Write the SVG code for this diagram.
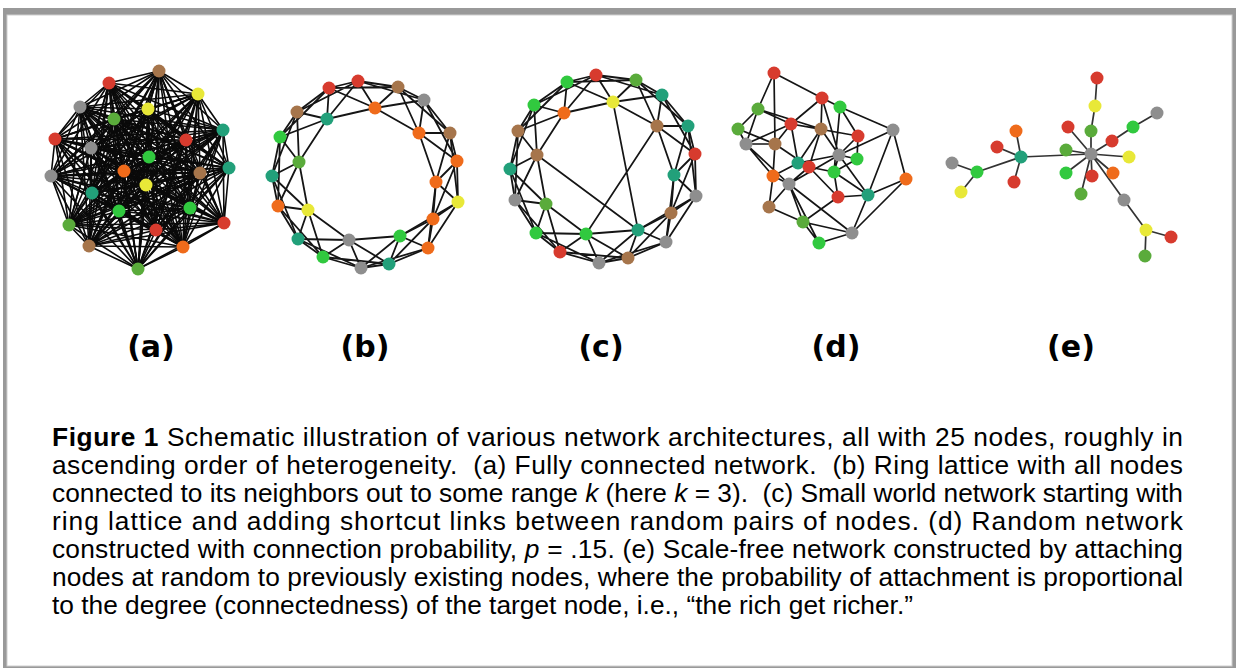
<svg xmlns="http://www.w3.org/2000/svg" width="1236" height="668" viewBox="0 0 1236 668">
<style>
.r{fill:#d73b2e}.br{fill:#a6754b}.y{fill:#e8e838}.g{fill:#8e8e8e}.ol{fill:#5aab3b}.gr{fill:#31c93f}.t{fill:#22a07a}.o{fill:#ef6b1b}
circle{r:6.5px}
.ea{fill:none;stroke:#0a0a0a;stroke-width:1.6;stroke-linejoin:round}
.eb{fill:none;stroke:#151515;stroke-width:1.8;stroke-linejoin:round}
.ed{fill:none;stroke:#151515;stroke-width:1.7}
.ee{fill:none;stroke:#333;stroke-width:1.7}
.lab{font-family:"DejaVu Sans",sans-serif;font-weight:bold;font-size:30px;fill:#000;text-anchor:middle}
.cap{font-family:"Liberation Sans",Arial,sans-serif;font-size:26.3px;fill:#000}
</style>
<rect x="3" y="8" width="1233" height="660" fill="#999"/>
<rect x="7" y="15" width="1225" height="651" fill="#fff" stroke="#cfcfcf" stroke-width="1"/>

<g id="connectors">
<g id="edges-a">
<polygon class="ea" points="159,71 109,83 198,94 80,107 148,109 114,119 223,130 55,139 186,140 91,148 149,157 229,168 124,171 200,173 51,176 146,185 92,193 119,211 190,208 69,225 156,230 224,223 89,246 183,247 138,269"/>
<polygon class="ea" points="159,71 198,94 148,109 223,130 186,140 149,157 124,171 51,176 92,193 190,208 156,230 89,246 138,269 109,83 80,107 114,119 55,139 91,148 229,168 200,173 146,185 119,211 69,225 224,223 183,247"/>
<polygon class="ea" points="159,71 80,107 223,130 91,148 124,171 146,185 190,208 224,223 138,269 198,94 114,119 186,140 229,168 51,176 119,211 156,230 183,247 109,83 148,109 55,139 149,157 200,173 92,193 69,225 89,246"/>
<polygon class="ea" points="159,71 148,109 186,140 124,171 92,193 156,230 138,269 80,107 55,139 229,168 146,185 69,225 183,247 198,94 223,130 149,157 51,176 190,208 89,246 109,83 114,119 91,148 200,173 119,211 224,223"/>
<polygon class="ea" points="159,71 114,119 149,157 146,185 156,230"/>
<polygon class="ea" points="109,83 223,130 229,168 92,193 224,223"/>
<polygon class="ea" points="198,94 55,139 124,171 119,211 89,246"/>
<polygon class="ea" points="80,107 186,140 200,173 190,208 183,247"/>
<polygon class="ea" points="148,109 91,148 51,176 69,225 138,269"/>
<polygon class="ea" points="159,71 223,130 124,171 190,208 138,269 114,119 229,168 119,211 183,247 148,109 149,157 92,193 89,246 80,107 91,148 146,185 224,223 198,94 186,140 51,176 156,230 109,83 55,139 200,173 69,225"/>
<polygon class="ea" points="159,71 55,139 51,176 224,223 80,107 149,157 119,211 138,269 223,130 200,173 156,230 198,94 91,148 92,193 183,247 114,119 124,171 69,225 109,83 186,140 146,185 89,246 148,109 229,168 190,208"/>
<polygon class="ea" points="159,71 186,140 92,193 138,269 55,139 146,185 183,247 223,130 51,176 89,246 114,119 200,173 224,223 148,109 124,171 156,230 80,107 229,168 69,225 198,94 149,157 190,208 109,83 91,148 119,211"/>
<polygon class="ea" points="159,71 91,148 190,208 198,94 229,168 156,230 148,109 200,173 89,246 223,130 146,185 138,269 186,140 119,211 109,83 149,157 69,225 80,107 124,171 224,223 114,119 51,176 183,247 55,139 92,193"/>
<polygon class="ea" points="159,71 149,157 156,230 114,119 146,185"/>
<polygon class="ea" points="109,83 229,168 224,223 223,130 92,193"/>
<polygon class="ea" points="198,94 124,171 89,246 55,139 119,211"/>
<polygon class="ea" points="80,107 200,173 183,247 186,140 190,208"/>
<polygon class="ea" points="148,109 51,176 138,269 91,148 69,225"/>
<polygon class="ea" points="159,71 229,168 89,246 186,140 69,225 114,119 92,193 198,94 200,173 138,269 149,157 224,223 55,139 190,208 148,109 146,185 109,83 124,171 183,247 91,148 156,230 223,130 119,211 80,107 51,176"/>
<polygon class="ea" points="159,71 124,171 138,269 229,168 183,247 149,157 89,246 91,148 224,223 186,140 156,230 55,139 69,225 223,130 190,208 114,119 119,211 148,109 92,193 80,107 146,185 198,94 51,176 109,83 200,173"/>
</g>
<g id="edges-b">
<polygon class="eb" points="299,162 280,137 297,112 327,119 329,88 358,81 375,108 398,87 424,100 419,133 450,133 457,161 436,182 458,202 433,219 428,248 400,236 389,264 361,268 349,240 323,257 298,239 308,210 278,206 272,176"/>
<polygon class="eb" points="299,162 297,112 329,88 375,108 424,100 450,133 436,182 433,219 400,236 361,268 323,257 308,210 272,176 280,137 327,119 358,81 398,87 419,133 457,161 458,202 428,248 389,264 349,240 298,239 278,206"/>
<polygon class="eb" points="299,162 327,119 375,108 419,133 436,182 428,248 361,268 298,239 272,176 297,112 358,81 424,100 457,161 433,219 389,264 323,257 278,206 280,137 329,88 398,87 450,133 458,202 400,236 349,240 308,210"/>
</g>
<g id="edges-c">
<polygon class="eb" points="510,169 537,155 518,131 534,105 564,113 567,82 596,75 613,102 636,80 662,95 657,126 688,126 695,154 674,175 696,196 671,213 666,242 638,230 628,258 599,263 586,234 560,252 536,233 546,204 515,200"/>
<polygon class="eb" points="510,169 518,131 564,113 596,75 636,80 657,126 695,154 696,196 666,242 628,258 586,234 536,233 515,200 537,155 534,105 567,82 613,102 662,95 688,126 674,175 671,213 638,230 599,263 560,252 546,204"/>
<polygon class="eb" points="510,169 534,105 596,75 662,95 695,154 671,213 628,258 560,252 515,200 518,131 567,82 636,80 688,126 696,196 638,230 586,234 546,204 537,155 564,113 613,102 657,126 674,175 666,242 599,263 536,233"/>
<path class="ed" d="M613 102L638 230M537 155L638 230M657 126L586 234"/>
</g>
<g id="edges-d">
<path class="ed" d="M774 73L822 98M774 73L758 109M774 73L775 144M822 98L840 107M822 98L791 124M822 98L821 129M822 98L839 155M758 109L791 124M758 109L738 129M758 109L746 144M758 109L821 129M840 107L893 130M840 107L858 136M840 107L834 172M791 124L821 129M791 124L858 136M791 124L775 144M791 124L798 163M791 124L746 144M738 129L746 144M738 129L775 144M821 129L839 155M821 129L809 167M821 129L798 163M893 130L839 155M893 130L906 179M893 130L868 195M858 136L857 159M858 136L839 155M746 144L775 144M746 144L773 176M746 144L789 184M775 144L809 167M775 144L773 176M839 155L857 159M839 155L798 163M839 155L834 172M839 155L789 184M857 159L834 172M798 163L809 167M798 163L773 176M809 167L834 172M809 167L789 184M809 167L838 197M834 172L868 195M773 176L789 184M773 176L769 207M789 184L769 207M789 184L803 222M789 184L819 243M906 179L868 195M906 179L852 233M838 197L868 195M838 197L803 222M868 195L852 233M769 207L803 222M803 222L819 243M852 233L819 243M803 222L852 233M834 172L838 197M789 184L852 233M839 155L868 195"/>
</g>
<g id="edges-e">
<path class="ee" d="M1097 78L1095 106M1095 106L1091 131M1091 131L1091 154M1157 113L1133 127M1133 127L1112 141M1112 141L1091 154M1068 127L1091 154M1066 150L1091 154M1091 154L1021 157M1091 154L1129 157M1091 154L1066 173M1091 154L1092 176M1091 154L1113 173M1091 154L1081 194M1091 154L1124 200M1124 200L1146 230M1146 230L1171 237M1146 230L1145 256M1021 157L1016 131M1021 157L997 147M1021 157L1014 182M1021 157L977 172M977 172L952 163M977 172L961 192"/>
</g>
</g>

<g id="network-a">
<g id="a1"><circle class="br" cx="159" cy="71" r="6.5"/></g>
<g id="a2"><circle class="r" cx="109" cy="83" r="6.5"/></g>
<g id="a3"><circle class="y" cx="198" cy="94" r="6.5"/></g>
<g id="a4"><circle class="g" cx="80" cy="107" r="6.5"/></g>
<g id="a5"><circle class="y" cx="148" cy="109" r="6.5"/></g>
<g id="a6"><circle class="ol" cx="114" cy="119" r="6.5"/></g>
<g id="a7"><circle class="t" cx="223" cy="130" r="6.5"/></g>
<g id="a8"><circle class="r" cx="55" cy="139" r="6.5"/></g>
<g id="a9"><circle class="r" cx="186" cy="140" r="6.5"/></g>
<g id="a10"><circle class="g" cx="91" cy="148" r="6.5"/></g>
<g id="a11"><circle class="gr" cx="149" cy="157" r="6.5"/></g>
<g id="a12"><circle class="t" cx="229" cy="168" r="6.5"/></g>
<g id="a13"><circle class="o" cx="124" cy="171" r="6.5"/></g>
<g id="a14"><circle class="br" cx="200" cy="173" r="6.5"/></g>
<g id="a15"><circle class="g" cx="51" cy="176" r="6.5"/></g>
<g id="a16"><circle class="y" cx="146" cy="185" r="6.5"/></g>
<g id="a17"><circle class="t" cx="92" cy="193" r="6.5"/></g>
<g id="a18"><circle class="gr" cx="119" cy="211" r="6.5"/></g>
<g id="a19"><circle class="gr" cx="190" cy="208" r="6.5"/></g>
<g id="a20"><circle class="ol" cx="69" cy="225" r="6.5"/></g>
<g id="a21"><circle class="r" cx="156" cy="230" r="6.5"/></g>
<g id="a22"><circle class="r" cx="224" cy="223" r="6.5"/></g>
<g id="a23"><circle class="br" cx="89" cy="246" r="6.5"/></g>
<g id="a24"><circle class="o" cx="183" cy="247" r="6.5"/></g>
<g id="a25"><circle class="ol" cx="138" cy="269" r="6.5"/></g>
</g>

<g id="network-b">
<g id="b1"><circle class="r" cx="329" cy="88" r="6.5"/></g>
<g id="b2"><circle class="r" cx="358" cy="81" r="6.5"/></g>
<g id="b3"><circle class="br" cx="398" cy="87" r="6.5"/></g>
<g id="b4"><circle class="g" cx="424" cy="100" r="6.5"/></g>
<g id="b5"><circle class="o" cx="375" cy="108" r="6.5"/></g>
<g id="b6"><circle class="br" cx="297" cy="112" r="6.5"/></g>
<g id="b7"><circle class="t" cx="327" cy="119" r="6.5"/></g>
<g id="b8"><circle class="o" cx="419" cy="133" r="6.5"/></g>
<g id="b9"><circle class="br" cx="450" cy="133" r="6.5"/></g>
<g id="b10"><circle class="gr" cx="280" cy="137" r="6.5"/></g>
<g id="b11"><circle class="ol" cx="299" cy="162" r="6.5"/></g>
<g id="b12"><circle class="o" cx="457" cy="161" r="6.5"/></g>
<g id="b13"><circle class="t" cx="272" cy="176" r="6.5"/></g>
<g id="b14"><circle class="o" cx="436" cy="182" r="6.5"/></g>
<g id="b15"><circle class="o" cx="278" cy="206" r="6.5"/></g>
<g id="b16"><circle class="y" cx="458" cy="202" r="6.5"/></g>
<g id="b17"><circle class="y" cx="308" cy="210" r="6.5"/></g>
<g id="b18"><circle class="o" cx="433" cy="219" r="6.5"/></g>
<g id="b19"><circle class="t" cx="298" cy="239" r="6.5"/></g>
<g id="b20"><circle class="g" cx="349" cy="240" r="6.5"/></g>
<g id="b21"><circle class="gr" cx="400" cy="236" r="6.5"/></g>
<g id="b22"><circle class="o" cx="428" cy="248" r="6.5"/></g>
<g id="b23"><circle class="gr" cx="323" cy="257" r="6.5"/></g>
<g id="b24"><circle class="t" cx="389" cy="264" r="6.5"/></g>
<g id="b25"><circle class="g" cx="361" cy="268" r="6.5"/></g>
</g>

<g id="network-c">
<g id="c1"><circle class="r" cx="596" cy="75" r="6.5"/></g>
<g id="c2"><circle class="ol" cx="636" cy="80" r="6.5"/></g>
<g id="c3"><circle class="gr" cx="567" cy="82" r="6.5"/></g>
<g id="c4"><circle class="t" cx="662" cy="95" r="6.5"/></g>
<g id="c5"><circle class="y" cx="613" cy="102" r="6.5"/></g>
<g id="c6"><circle class="gr" cx="534" cy="105" r="6.5"/></g>
<g id="c7"><circle class="o" cx="564" cy="113" r="6.5"/></g>
<g id="c8"><circle class="br" cx="657" cy="126" r="6.5"/></g>
<g id="c9"><circle class="t" cx="688" cy="126" r="6.5"/></g>
<g id="c10"><circle class="br" cx="518" cy="131" r="6.5"/></g>
<g id="c11"><circle class="r" cx="695" cy="154" r="6.5"/></g>
<g id="c12"><circle class="br" cx="537" cy="155" r="6.5"/></g>
<g id="c13"><circle class="t" cx="510" cy="169" r="6.5"/></g>
<g id="c14"><circle class="t" cx="674" cy="175" r="6.5"/></g>
<g id="c15"><circle class="g" cx="696" cy="196" r="6.5"/></g>
<g id="c16"><circle class="g" cx="515" cy="200" r="6.5"/></g>
<g id="c17"><circle class="ol" cx="546" cy="204" r="6.5"/></g>
<g id="c18"><circle class="br" cx="671" cy="213" r="6.5"/></g>
<g id="c19"><circle class="t" cx="638" cy="230" r="6.5"/></g>
<g id="c20"><circle class="gr" cx="536" cy="233" r="6.5"/></g>
<g id="c21"><circle class="gr" cx="586" cy="234" r="6.5"/></g>
<g id="c22"><circle class="g" cx="666" cy="242" r="6.5"/></g>
<g id="c23"><circle class="r" cx="560" cy="252" r="6.5"/></g>
<g id="c24"><circle class="br" cx="628" cy="258" r="6.5"/></g>
<g id="c25"><circle class="g" cx="599" cy="263" r="6.5"/></g>
</g>

<g id="network-d">
<g id="d1"><circle class="r" cx="774" cy="73" r="6.5"/></g>
<g id="d2"><circle class="r" cx="822" cy="98" r="6.5"/></g>
<g id="d3"><circle class="ol" cx="758" cy="109" r="6.5"/></g>
<g id="d4"><circle class="gr" cx="840" cy="107" r="6.5"/></g>
<g id="d5"><circle class="r" cx="791" cy="124" r="6.5"/></g>
<g id="d6"><circle class="ol" cx="738" cy="129" r="6.5"/></g>
<g id="d7"><circle class="br" cx="821" cy="129" r="6.5"/></g>
<g id="d8"><circle class="g" cx="893" cy="130" r="6.5"/></g>
<g id="d9"><circle class="r" cx="858" cy="136" r="6.5"/></g>
<g id="d10"><circle class="g" cx="746" cy="144" r="6.5"/></g>
<g id="d11"><circle class="br" cx="775" cy="144" r="6.5"/></g>
<g id="d12"><circle class="g" cx="839" cy="155" r="6.5"/></g>
<g id="d13"><circle class="gr" cx="857" cy="159" r="6.5"/></g>
<g id="d14"><circle class="t" cx="798" cy="163" r="6.5"/></g>
<g id="d15"><circle class="r" cx="809" cy="167" r="6.5"/></g>
<g id="d16"><circle class="gr" cx="834" cy="172" r="6.5"/></g>
<g id="d17"><circle class="o" cx="773" cy="176" r="6.5"/></g>
<g id="d18"><circle class="g" cx="789" cy="184" r="6.5"/></g>
<g id="d19"><circle class="o" cx="906" cy="179" r="6.5"/></g>
<g id="d20"><circle class="r" cx="838" cy="197" r="6.5"/></g>
<g id="d21"><circle class="t" cx="868" cy="195" r="6.5"/></g>
<g id="d22"><circle class="br" cx="769" cy="207" r="6.5"/></g>
<g id="d23"><circle class="ol" cx="803" cy="222" r="6.5"/></g>
<g id="d24"><circle class="g" cx="852" cy="233" r="6.5"/></g>
<g id="d25"><circle class="gr" cx="819" cy="243" r="6.5"/></g>
</g>

<g id="network-e">
<g id="e1"><circle class="r" cx="1097" cy="78" r="6.5"/></g>
<g id="e2"><circle class="y" cx="1095" cy="106" r="6.5"/></g>
<g id="e3"><circle class="g" cx="1157" cy="113" r="6.5"/></g>
<g id="e4"><circle class="r" cx="1068" cy="127" r="6.5"/></g>
<g id="e5"><circle class="ol" cx="1091" cy="131" r="6.5"/></g>
<g id="e6"><circle class="o" cx="1016" cy="131" r="6.5"/></g>
<g id="e7"><circle class="gr" cx="1133" cy="127" r="6.5"/></g>
<g id="e8"><circle class="r" cx="1112" cy="141" r="6.5"/></g>
<g id="e9"><circle class="r" cx="997" cy="147" r="6.5"/></g>
<g id="e10"><circle class="ol" cx="1066" cy="150" r="6.5"/></g>
<g id="e11"><circle class="g" cx="1091" cy="154" r="5.5"/></g>
<g id="e12"><circle class="t" cx="1021" cy="157" r="6.5"/></g>
<g id="e13"><circle class="y" cx="1129" cy="157" r="6.5"/></g>
<g id="e14"><circle class="g" cx="952" cy="163" r="6.5"/></g>
<g id="e15"><circle class="gr" cx="977" cy="172" r="6.5"/></g>
<g id="e16"><circle class="gr" cx="1066" cy="173" r="6.5"/></g>
<g id="e17"><circle class="r" cx="1092" cy="176" r="6.5"/></g>
<g id="e18"><circle class="o" cx="1113" cy="173" r="6.5"/></g>
<g id="e19"><circle class="r" cx="1014" cy="182" r="6.5"/></g>
<g id="e20"><circle class="y" cx="961" cy="192" r="6.5"/></g>
<g id="e21"><circle class="ol" cx="1081" cy="194" r="6.5"/></g>
<g id="e22"><circle class="g" cx="1124" cy="200" r="6.5"/></g>
<g id="e23"><circle class="y" cx="1146" cy="230" r="6.5"/></g>
<g id="e24"><circle class="r" cx="1171" cy="237" r="6.5"/></g>
<g id="e25"><circle class="ol" cx="1145" cy="256" r="6.5"/></g>
</g>

<g id="labels">
<text class="lab" x="151" y="357">(a)</text>
<text class="lab" x="365" y="357">(b)</text>
<text class="lab" x="601" y="357">(c)</text>
<text class="lab" x="836" y="357">(d)</text>
<text class="lab" x="1071" y="357">(e)</text>
</g>

<g id="caption">
<text class="cap" x="52" y="446" textLength="1131" lengthAdjust="spacing" xml:space="preserve"><tspan font-weight="bold">Figure 1</tspan> Schematic illustration of various network architectures, all with 25 nodes, roughly in</text>
<text class="cap" x="52" y="474" textLength="1131" lengthAdjust="spacing" xml:space="preserve">ascending order of heterogeneity.  (a) Fully connected network.  (b) Ring lattice with all nodes</text>
<text class="cap" x="52" y="502" textLength="1131" lengthAdjust="spacing" xml:space="preserve">connected to its neighbors out to some range <tspan font-style="italic">k</tspan> (here <tspan font-style="italic">k</tspan> = 3).  (c) Small world network starting with</text>
<text class="cap" x="52" y="530" textLength="1131" lengthAdjust="spacing" xml:space="preserve">ring lattice and adding shortcut links between random pairs of nodes. (d) Random network</text>
<text class="cap" x="52" y="558" textLength="1131" lengthAdjust="spacing" xml:space="preserve">constructed with connection probability, <tspan font-style="italic">p</tspan> = .15. (e) Scale-free network constructed by attaching</text>
<text class="cap" x="52" y="586" textLength="1131" lengthAdjust="spacing" xml:space="preserve">nodes at random to previously existing nodes, where the probability of attachment is proportional</text>
<text class="cap" x="52" y="614" xml:space="preserve">to the degree (connectedness) of the target node, i.e., “the rich get richer.”</text>
</g>
</svg>
